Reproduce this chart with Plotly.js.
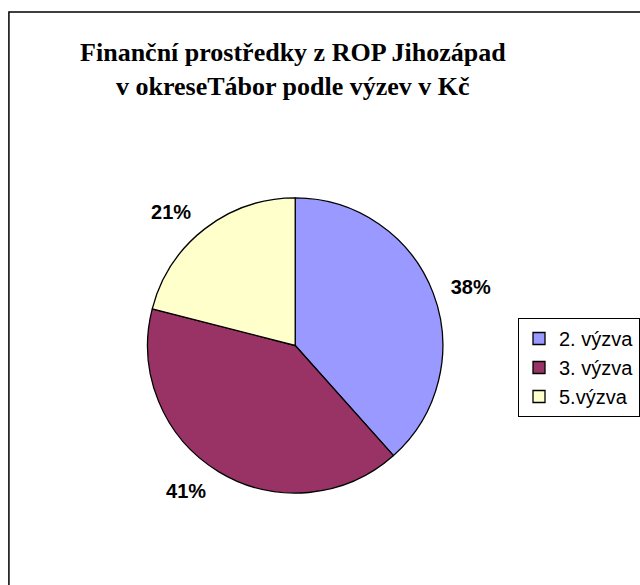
<!DOCTYPE html>
<html>
<head>
<meta charset="utf-8">
<script src="https://cdn.plot.ly/plotly-3.0.1.min.js"></script>
<style>
  html, body { margin: 0; padding: 0; background: #ffffff; }
  #chart { width: 640px; height: 585px; }
</style>
</head>
<body>
<div id="chart"></div>
<script>
// Data (shares in %)
const categories = ["2. výzva", "3. výzva", "5.výzva"];
const shares = [38.4, 40.6, 21.0];
const sliceColors = ["#9999FF", "#993366", "#FFFFCC"];
const titleLine1 = "Finanční prostředky z ROP Jihozápad";
const titleLine2 = "v okreseTábor podle výzev v Kč";

const cx = 298, cy = 345.5, r = 149, rLabel = 162;
const W = 640, H = 585;

// visible pie (slices, outline, legend)
const pieTrace = {
  type: "pie",
  labels: categories,
  values: shares,
  sort: false,
  direction: "clockwise",
  rotation: 0,
  marker: { colors: sliceColors, line: { color: "#000000", width: 1.3 } },
  textinfo: "none",
  hoverinfo: "none",
  domain: { x: [(cx - r) / W, (cx + r) / W], y: [(H - cy - r) / H, (H - cy + r) / H] }
};

// transparent copy of the same data, slightly larger, only to carry the outside percentage labels
const labelTrace = {
  type: "pie",
  labels: categories,
  values: shares,
  sort: false,
  direction: "clockwise",
  rotation: 0,
  showlegend: false,
  marker: { colors: ["rgba(0,0,0,0)", "rgba(0,0,0,0)", "rgba(0,0,0,0)"], line: { width: 0 } },
  textposition: "outside",
  texttemplate: "%{percent:.0%}",
  textfont: { family: "Liberation Sans, Arial, sans-serif", size: 20, color: "#000000", weight: "bold" },
  hoverinfo: "none",
  domain: { x: [(cx - rLabel) / W, (cx + rLabel) / W], y: [(H - cy - rLabel) / H, (H - cy + rLabel) / H] }
};

const layout = {
  width: W,
  height: H,
  margin: { l: 0, r: 0, t: 0, b: 0 },
  paper_bgcolor: "#ffffff",
  showlegend: true,
  title: {
    text: "<b>" + titleLine1 + "</b>",
    font: { family: "Liberation Serif, Times New Roman, serif", size: 26, color: "#000000" },
    x: 0.462, xref: "paper", xanchor: "center",
    y: 1 - 52 / H, yref: "paper", yanchor: "middle"
  },
  annotations: [{
    text: "<b>" + titleLine2 + "</b>",
    font: { family: "Liberation Serif, Times New Roman, serif", size: 26, color: "#000000" },
    x: 0.462, xref: "paper", xanchor: "center",
    y: 1 - 86 / H, yref: "paper", yanchor: "middle",
    showarrow: false
  }],
  legend: {
    x: 523 / W, xanchor: "left",
    y: 1 - 318 / H, yanchor: "top",
    bordercolor: "#000000", borderwidth: 1,
    bgcolor: "#ffffff",
    font: { family: "Liberation Sans, Arial, sans-serif", size: 20, color: "#000000" },
    itemclick: false, itemdoubleclick: false
  },
  shapes: [{
    type: "rect", xref: "paper", yref: "paper",
    x0: 9 / W, x1: 1.3, y0: -0.3, y1: 1 - 12 / H,
    line: { color: "#000000", width: 1.5 }, fillcolor: "rgba(0,0,0,0)", layer: "below"
  }]
};

Plotly.newPlot("chart", [pieTrace, labelTrace], layout, { displayModeBar: false, staticPlot: true });
</script>
</body>
</html>
